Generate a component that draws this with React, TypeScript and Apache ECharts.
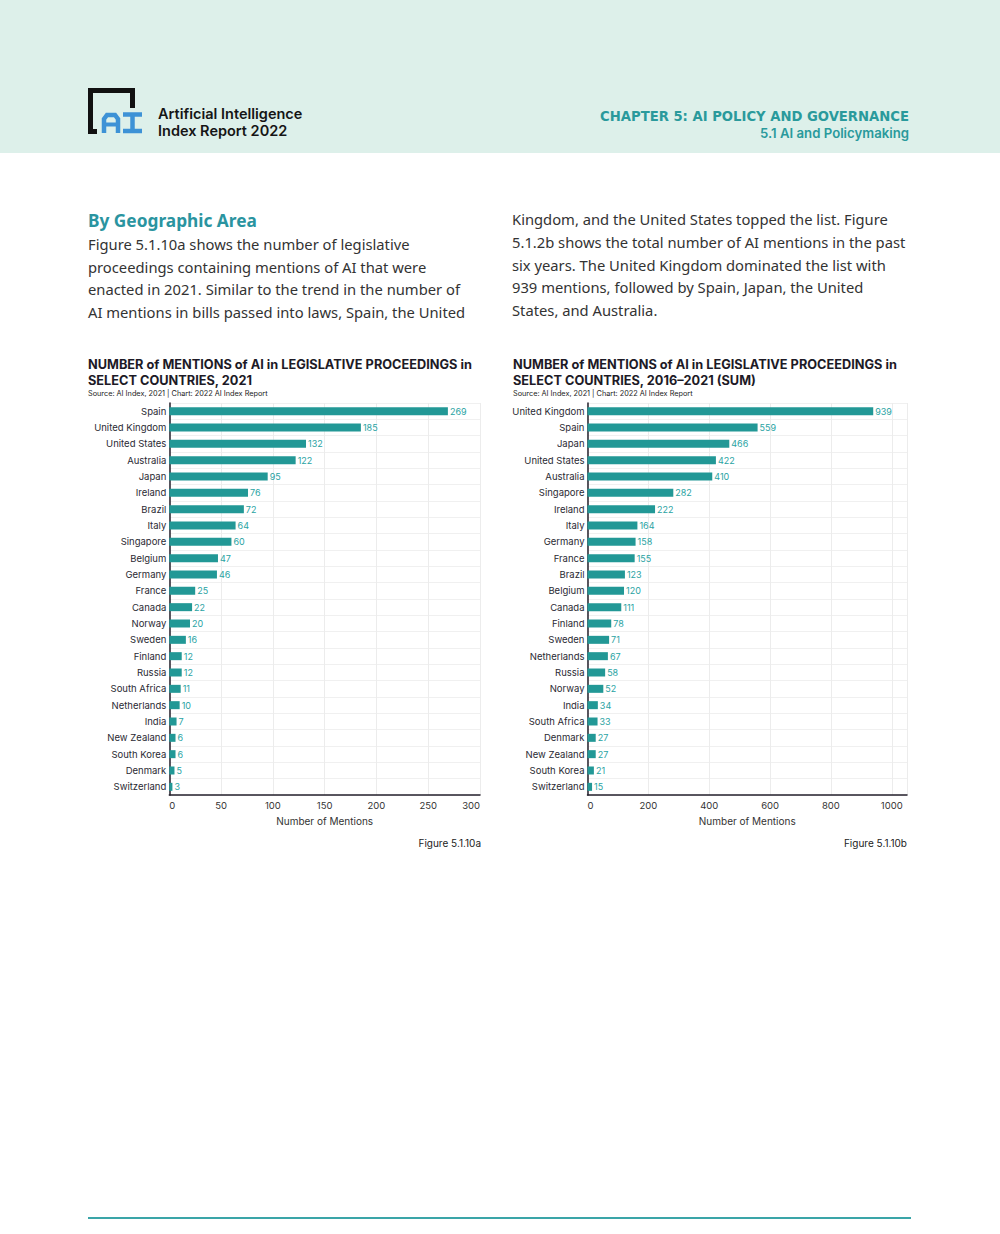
import React, { useEffect, useRef } from "react";
import * as echarts from "echarts";

const countries2021 = ["Spain","United Kingdom","United States","Australia","Japan","Ireland","Brazil","Italy","Singapore","Belgium","Germany","France","Canada","Norway","Sweden","Finland","Russia","South Africa","Netherlands","India","New Zealand","South Korea","Denmark","Switzerland"];
const values2021 = [269,185,132,122,95,76,72,64,60,47,46,25,22,20,16,12,12,11,10,7,6,6,5,3];

const countriesSum = ["United Kingdom","Spain","Japan","United States","Australia","Singapore","Ireland","Italy","Germany","France","Brazil","Belgium","Canada","Finland","Sweden","Netherlands","Russia","Norway","India","South Africa","Denmark","New Zealand","South Korea","Switzerland"];
const valuesSum = [939,559,466,422,410,282,222,164,158,155,123,120,111,78,71,67,58,52,34,33,27,27,21,15];

const leftParagraph = [
  "Figure 5.1.10a shows the number of legislative",
  "proceedings containing mentions of AI that were",
  "enacted in 2021. Similar to the trend in the number of",
  "AI mentions in bills passed into laws, Spain, the United",
];
const rightParagraph = [
  "Kingdom, and the United States topped the list. Figure",
  "5.1.2b shows the total number of AI mentions in the past",
  "six years. The United Kingdom dominated the list with",
  "939 mentions, followed by Spain, Japan, the United",
  "States, and Australia.",
];

const TEAL = "#229896";
const LABEL_TEAL = "#2aa3a3";
const DARK = "#25202c";
const SANS = "Inter, 'Noto Sans', sans-serif";
const BODY = "'Noto Sans', sans-serif";
const LOGO_BLUE = "#3d92d6";

function makeGrid(left: number, width: number) {
  return { left, top: 403, width, height: 392, containLabel: false };
}

function xAxis(gridIndex: number, max: number, interval: number) {
  return {
    type: "value",
    gridIndex,
    min: 0,
    max,
    interval,
    name: "Number of Mentions",
    nameLocation: "middle",
    nameGap: 21,
    nameTextStyle: { fontFamily: SANS, fontSize: 10, color: "#333" },
    axisLine: { show: true, lineStyle: { color: DARK, width: 1.5 } },
    axisTick: { show: false },
    axisLabel: {
      fontFamily: SANS, fontSize: 9.5, color: "#333", margin: 5,
      alignMinLabel: "left", alignMaxLabel: "right",
      showMaxLabel: gridIndex === 0,
      formatter: (v: number) => String(v),
    },
    splitLine: { show: true, lineStyle: { color: "#ececec", width: 1 } },
  };
}

function yAxis(gridIndex: number, data: string[]) {
  return {
    type: "category",
    gridIndex,
    data,
    inverse: true,
    axisLine: { show: true, lineStyle: { color: DARK, width: 1.5 } },
    axisTick: { show: false },
    axisLabel: { fontFamily: SANS, fontSize: 9.5, color: "#2a2a33", margin: 3 },
    splitLine: { show: true, lineStyle: { color: "#f0f0f0", width: 1 } },
  };
}

function barSeries(idx: number, data: number[]) {
  return {
    type: "bar",
    xAxisIndex: idx,
    yAxisIndex: idx,
    data,
    barWidth: 8,
    itemStyle: { color: TEAL },
    label: {
      show: true, position: "right", distance: 2,
      fontFamily: SANS, fontSize: 9, color: LABEL_TEAL,
    },
  };
}

export default function App() {
  const ref = useRef<HTMLDivElement>(null);
  useEffect(() => {
    if (!ref.current) return;
    const chart = echarts.init(ref.current, null, { renderer: "svg" });
    const graphic: any[] = [
      { type: "rect", shape: { x: 0, y: 0, width: 1000, height: 153 }, style: { fill: "#ddf0ea" }, z: -10 },
      // logo bracket
      { type: "polyline", shape: { points: [[97, 131.5], [90.5, 131.5], [90.5, 90.5], [132.5, 90.5], [132.5, 108]] }, style: { stroke: "#111", lineWidth: 5, fill: null, lineJoin: "miter" } },
      // A
      { type: "polyline", shape: { points: [[104, 133], [104, 119], [107, 115], [115, 115], [118, 119], [118, 133]] }, style: { stroke: LOGO_BLUE, lineWidth: 4.5, fill: null } },
      { type: "line", shape: { x1: 104, y1: 124.5, x2: 118, y2: 124.5 }, style: { stroke: LOGO_BLUE, lineWidth: 4 } },
      // I
      { type: "line", shape: { x1: 123, y1: 114.5, x2: 142, y2: 114.5 }, style: { stroke: LOGO_BLUE, lineWidth: 4.5 } },
      { type: "line", shape: { x1: 123, y1: 131, x2: 142, y2: 131 }, style: { stroke: LOGO_BLUE, lineWidth: 4.5 } },
      { type: "line", shape: { x1: 132.5, y1: 114, x2: 132.5, y2: 131 }, style: { stroke: LOGO_BLUE, lineWidth: 4.5 } },
      { type: "text", x: 158, y: 113, style: { text: "Artificial Intelligence", fontFamily: SANS, fontSize: 14.5, fontWeight: 600, fill: "#151515", textVerticalAlign: "middle" } },
      { type: "text", x: 158, y: 130, style: { text: "Index Report 2022", fontFamily: SANS, fontSize: 14.5, fontWeight: 600, fill: "#151515", textVerticalAlign: "middle" } },
      { type: "text", x: 909, y: 116, style: { text: "CHAPTER 5: AI POLICY AND GOVERNANCE", fontFamily: "'DejaVu Sans', sans-serif", fontSize: 13.2, fontWeight: "bold", fill: "#2a9a9c", textAlign: "right", textVerticalAlign: "middle" } },
      { type: "text", x: 909, y: 133, style: { text: "5.1 AI and Policymaking", fontFamily: SANS, fontSize: 13.2, fontWeight: 600, fill: "#2a9a9c", textAlign: "right", textVerticalAlign: "middle" } },
      { type: "text", x: 88, y: 220, style: { text: "By Geographic Area", fontFamily: BODY, fontSize: 17.3, fontWeight: "bold", fill: "#2a94a0", textVerticalAlign: "middle" } },
      ...leftParagraph.map((t, i) => ({ type: "text", x: 88, y: 244 + i * 22.7, style: { text: t, fontFamily: BODY, fontSize: 14.75, fill: "#333", textVerticalAlign: "middle" } })),
      ...rightParagraph.map((t, i) => ({ type: "text", x: 512, y: 219 + i * 22.8, style: { text: t, fontFamily: BODY, fontSize: 14.75, fill: "#333", textVerticalAlign: "middle" } })),
      // chart titles
      { type: "text", x: 88, y: 364, style: { text: "NUMBER of MENTIONS of AI in LEGISLATIVE PROCEEDINGS in", fontFamily: SANS, fontSize: 12.75, fontWeight: "bold", fill: "#1d1a26", textVerticalAlign: "middle" } },
      { type: "text", x: 88, y: 380, style: { text: "SELECT COUNTRIES, 2021", fontFamily: SANS, fontSize: 12.75, fontWeight: "bold", fill: "#1d1a26", textVerticalAlign: "middle" } },
      { type: "text", x: 88, y: 393, style: { text: "Source: AI Index, 2021 | Chart: 2022 AI Index Report", fontFamily: SANS, fontSize: 7.3, fill: "#222", textVerticalAlign: "middle" } },
      { type: "text", x: 513, y: 364, style: { text: "NUMBER of MENTIONS of AI in LEGISLATIVE PROCEEDINGS in", fontFamily: SANS, fontSize: 12.75, fontWeight: "bold", fill: "#1d1a26", textVerticalAlign: "middle" } },
      { type: "text", x: 513, y: 380, style: { text: "SELECT COUNTRIES, 2016–2021 (SUM)", fontFamily: SANS, fontSize: 12.75, fontWeight: "bold", fill: "#1d1a26", textVerticalAlign: "middle" } },
      { type: "text", x: 513, y: 393, style: { text: "Source: AI Index, 2021 | Chart: 2022 AI Index Report", fontFamily: SANS, fontSize: 7.3, fill: "#222", textVerticalAlign: "middle" } },
      { type: "text", x: 481, y: 843, style: { text: "Figure 5.1.10a", fontFamily: SANS, fontSize: 10, fill: "#222", textAlign: "right", textVerticalAlign: "middle" } },
      { type: "text", x: 907, y: 843, style: { text: "Figure 5.1.10b", fontFamily: SANS, fontSize: 10, fill: "#222", textAlign: "right", textVerticalAlign: "middle" } },
      { type: "line", shape: { x1: 88, y1: 1218, x2: 911, y2: 1218 }, style: { stroke: "#3aa5a8", lineWidth: 2 } },
    ];
    chart.setOption({
      animation: false,
      backgroundColor: "#ffffff",
      grid: [makeGrid(169.3, 310.7), makeGrid(587.5, 319.5)],
      xAxis: [xAxis(0, 300, 50), xAxis(1, 1050, 200)],
      yAxis: [yAxis(0, countries2021), yAxis(1, countriesSum)],
      series: [barSeries(0, values2021), barSeries(1, valuesSum)],
      graphic,
    });
    return () => chart.dispose();
  }, []);
  return <div ref={ref} style={{ position: "absolute", left: 0, top: 0, width: 1000, height: 1234 }} />;
}
